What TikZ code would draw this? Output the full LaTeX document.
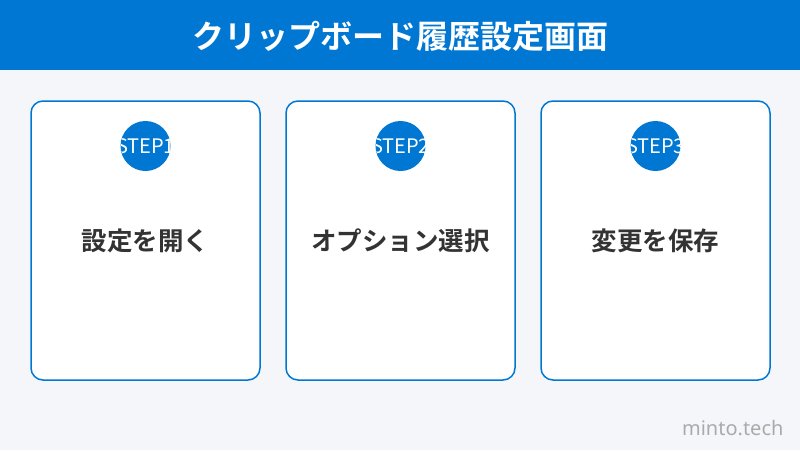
\documentclass[tikz,border=0pt]{standalone}
\usepackage{fontspec}
\setmainfont{Noto Sans CJK JP}
\newfontfamily\jpbold{Noto Sans CJK JP Bold}
\newfontfamily\latinfont{Noto Sans}
\usetikzlibrary{positioning}
\definecolor{hdrblue}{HTML}{0077D2}
\definecolor{pagebg}{HTML}{F5F6FA}
\definecolor{cardtxt}{HTML}{333333}
\definecolor{markgray}{HTML}{AAAAAA}
\tikzstyle{card} = [
    rectangle,
    rounded corners=12pt,
    draw=hdrblue,
    line width=1.5pt,
    fill=white,
    minimum width=229pt,
    minimum height=279pt,
    inner sep=0pt
]
\tikzstyle{stepdot} = [
    circle,
    fill=hdrblue,
    minimum size=50pt,
    inner sep=0pt
]
\tikzstyle{steptxt} = [text=white, font=\fontsize{20}{20}\selectfont, inner sep=0pt]
\tikzstyle{cardlbl} = [text=cardtxt, font=\jpbold\fontsize{25.5}{25.5}\selectfont, inner sep=0pt]
\newcommand{\stepdot}[3]{%
\node[stepdot] (#1) at (#2) {};
\begin{scope}
\clip (#1) circle (25pt);
\node[steptxt] at (#1) {#3};
\end{scope}
}

\begin{document}
\begin{tikzpicture}[x=1pt, y=-1pt]

\fill[pagebg] (0,0) rectangle (800,450);
\useasboundingbox (0,0) rectangle (800,450);

\fill[hdrblue] (0,0) rectangle (800,70);
\node[text=white, font=\jpbold\fontsize{32}{32}\selectfont] (title) at (400,36) {クリップボード履歴設定画面};

\node[card] (card1) at (145.5,240.5) {};
\node[card] (card2) at (400.5,240.5) {};
\node[card] (card3) at (655.5,240.5) {};

\stepdot{dot1}{145.5,146}{STEP1}
\stepdot{dot2}{400.5,146}{STEP2}
\stepdot{dot3}{655.5,146}{STEP3}

\node[cardlbl] (lbl1) at (145.5,241) {設定を開く};
\node[cardlbl] (lbl2) at (400.5,241) {オプション選択};
\node[cardlbl] (lbl3) at (655.5,241) {変更を保存};

\node[text=markgray, font=\latinfont\fontsize{20}{20}\selectfont, anchor=east] (mark) at (787,428) {minto.tech};

\end{tikzpicture}
\end{document}
